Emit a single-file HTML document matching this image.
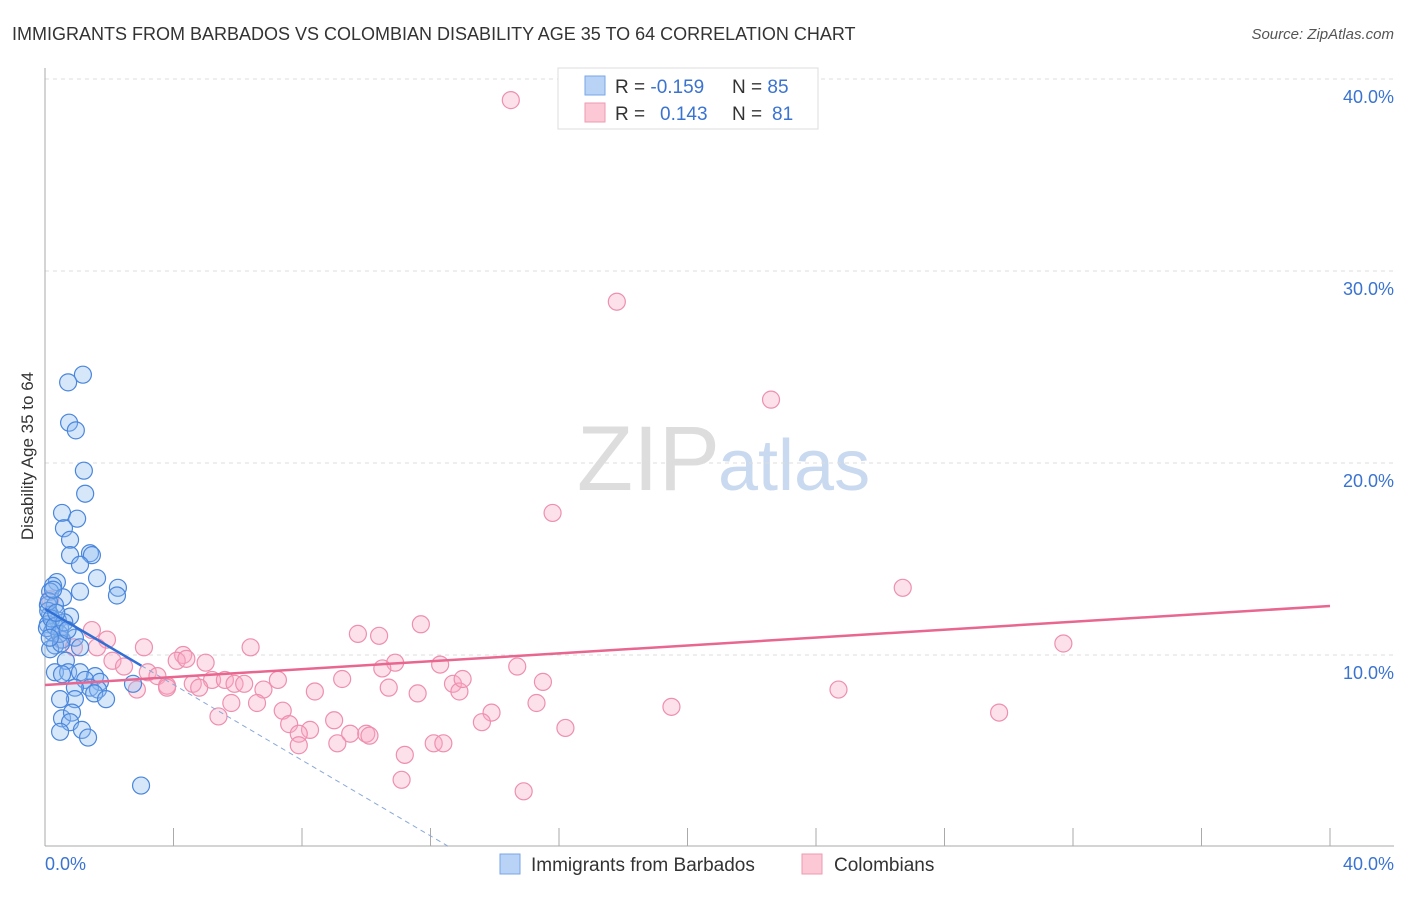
<!DOCTYPE html>
<html><head><meta charset="utf-8"><style>
body{margin:0;background:#fff;font-family:"Liberation Sans",sans-serif;}
svg text{font-family:"Liberation Sans",sans-serif;}
</style></head><body>
<svg width="1406" height="892" viewBox="0 0 1406 892">
<text x="12" y="40" font-size="18" fill="#333">IMMIGRANTS FROM BARBADOS VS COLOMBIAN DISABILITY AGE 35 TO 64 CORRELATION CHART</text>
<text x="1394" y="39" font-size="15" fill="#555" font-style="italic" text-anchor="end">Source: ZipAtlas.com</text>
<text x="720" y="490" font-size="92" fill="#ddd" text-anchor="end" font-family="Liberation Serif">ZIP</text>
<text x="718" y="490" font-size="72" fill="#c9d9ef">atlas</text>
<g id="grid"></g>
<line x1="45" y1="68" x2="45" y2="846" stroke="#aaa"/>
<line x1="45" y1="846" x2="1394" y2="846" stroke="#aaa"/>
<text transform="translate(33,456) rotate(-90)" font-size="17" fill="#333" text-anchor="middle">Disability Age 35 to 64</text>
<text x="45" y="870" font-size="18" fill="#3a73d0">0.0%</text>
<text x="1394" y="870" font-size="18" fill="#3a73d0" text-anchor="end">40.0%</text>
<g id="pts"></g>
<g id="trend"></g>
<g>
<rect x="558" y="68" width="260" height="61" fill="#fff" stroke="#ddd"/>
<rect x="585" y="76" width="20" height="19" fill="#b8d3f5" stroke="#7aa6e6"/>
<rect x="585" y="103" width="20" height="19" fill="#fcc8d6" stroke="#ee9ab3"/>
<text x="615" y="93" font-size="19" fill="#333">R = <tspan fill="#3a73d0">-0.159</tspan><tspan x="732">N = </tspan><tspan fill="#3a73d0">85</tspan></text>
<text x="615" y="120" font-size="19" fill="#333">R = <tspan x="660" fill="#3a73d0">0.143</tspan><tspan x="732">N = </tspan><tspan x="772" fill="#3a73d0">81</tspan></text>
</g>
<g>
<rect x="500" y="854" width="20" height="20" fill="#b8d3f5" stroke="#7aa6e6"/>
<text x="531" y="871" font-size="19" fill="#333">Immigrants from Barbados</text>
<rect x="802" y="854" width="20" height="20" fill="#fcc8d6" stroke="#ee9ab3"/>
<text x="834" y="871" font-size="19" fill="#333">Colombians</text>
</g>
</svg>
<script>
const yTicks=[10,20,30,40];
const xTicks=[4,8,12,16,20,24,28,32,36,40];
const blueX=[1.18,0.72,0.75,0.96,1.21,1.25,0.53,1.0,0.59,0.78,0.78,1.4,1.46,1.09,1.62,0.37,0.25,2.27,2.24,1.09,0.16,0.56,0.09,0.31,0.78,0.16,0.4,0.09,0.47,0.22,0.06,0.53,0.93,0.31,1.09,0.16,0.65,0.31,0.72,1.09,0.53,1.56,1.25,1.71,1.4,0.93,1.65,1.53,2.74,1.9,0.93,0.47,0.53,0.84,0.78,1.15,0.47,1.34,2.99,0.1,0.2,0.3,0.45,0.6,0.12,0.25,0.35,0.5,0.7,0.15];
const blueY=[24.6,24.2,22.1,21.7,19.6,18.4,17.4,17.1,16.6,16.0,15.2,15.3,15.2,14.7,14.0,13.8,13.6,13.5,13.1,13.3,13.3,13.0,12.6,12.6,12.0,12.1,11.8,11.6,11.4,11.2,11.4,10.8,10.9,10.5,10.4,10.3,9.7,9.1,9.1,9.1,9.0,8.9,8.7,8.6,8.3,8.3,8.2,8.0,8.5,7.7,7.7,7.7,6.7,7.0,6.5,6.1,6.0,5.7,3.2,12.3,11.9,11.5,11.1,11.7,12.8,13.4,12.2,10.6,11.3,10.9];
const pinkX=[14.5,17.8,22.6,15.8,26.7,31.7,11.7,9.74,10.4,6.4,3.08,1.46,1.93,1.62,12.3,10.9,10.5,14.7,5.0,4.3,4.1,4.4,2.1,2.46,3.2,3.5,3.8,4.6,5.2,5.6,5.9,6.2,6.8,7.25,8.4,9.25,10.7,11.6,12.7,12.9,13.0,15.5,24.7,2.86,3.8,4.8,5.8,6.6,7.4,5.4,7.6,8.25,7.9,9.0,9.5,10.0,10.1,9.1,7.9,13.9,13.6,15.3,16.2,19.5,29.7,12.1,12.4,11.2,11.1,14.9,0.16,0.5,0.9];
const pinkY=[38.9,28.4,23.3,17.4,13.5,10.6,11.6,11.1,11.0,10.4,10.4,11.3,10.8,10.4,9.5,9.6,9.3,9.4,9.6,10.0,9.7,9.8,9.7,9.4,9.1,8.9,8.4,8.5,8.7,8.7,8.5,8.5,8.2,8.7,8.1,8.75,8.3,8.0,8.5,8.1,8.75,8.6,8.2,8.2,8.3,8.3,7.5,7.5,7.1,6.8,6.4,6.1,5.9,6.6,5.9,5.9,5.8,5.4,5.3,7.0,6.5,7.5,6.2,7.3,7.0,5.4,5.4,4.8,3.5,2.9,12.9,10.8,10.4];
const blueTrend=[12.4,-0.985];
const pinkTrend=[8.44,0.1028];
const X=v=>45+v*32.125, Y=v=>847-v*19.2;
const NS="http://www.w3.org/2000/svg";
function mk(tag,attrs,parent){const e=document.createElementNS(NS,tag);for(const k in attrs)e.setAttribute(k,attrs[k]);document.getElementById(parent).appendChild(e);return e;}
yTicks.forEach(t=>{
 const l=mk('line',{x1:45,x2:1394,y1:Y(t),y2:Y(t),stroke:'#ddd','stroke-dasharray':'4,4'},'grid');
 
 
 const tx=mk('text',{x:1394,y:Y(t)+24,'font-size':18,fill:'#3a73d0','text-anchor':'end'},'grid');
 tx.textContent=t.toFixed(1)+'%';
 
 
});
xTicks.forEach(t=>{
 const l=mk('line',{x1:X(t),x2:X(t),y1:828,y2:846,stroke:'#aaa'},'grid');
 
 
});
pinkX.forEach((v,i)=>{
 const c=mk('circle',{cx:X(v),cy:Y(pinkY[i]),r:8.5,fill:'rgba(248,170,195,0.35)',stroke:'#ee8fae','stroke-width':1.2},'pts');
 
 
});
blueX.forEach((v,i)=>{
 const c=mk('circle',{cx:X(v),cy:Y(blueY[i]),r:8.5,fill:'rgba(140,185,240,0.35)',stroke:'#4a86dc','stroke-width':1.2},'pts');
 
 
});
const bEnd=-blueTrend[0]/blueTrend[1];
const bd=mk('line',{x1:X(3),y1:Y(blueTrend[0]+blueTrend[1]*3),x2:X(bEnd),y2:Y(0),stroke:'#8aa8d8','stroke-dasharray':'5,4','stroke-width':1},'trend');


const bl=mk('line',{x1:X(0),y1:Y(blueTrend[0]),x2:X(3),y2:Y(blueTrend[0]+blueTrend[1]*3),stroke:'#2f6fd6','stroke-width':2.5},'trend');


const pl=mk('line',{x1:X(0),y1:Y(pinkTrend[0]),x2:X(40),y2:Y(pinkTrend[0]+pinkTrend[1]*40),stroke:'#e8668f','stroke-width':2.5},'trend');


</script>
</body></html>
